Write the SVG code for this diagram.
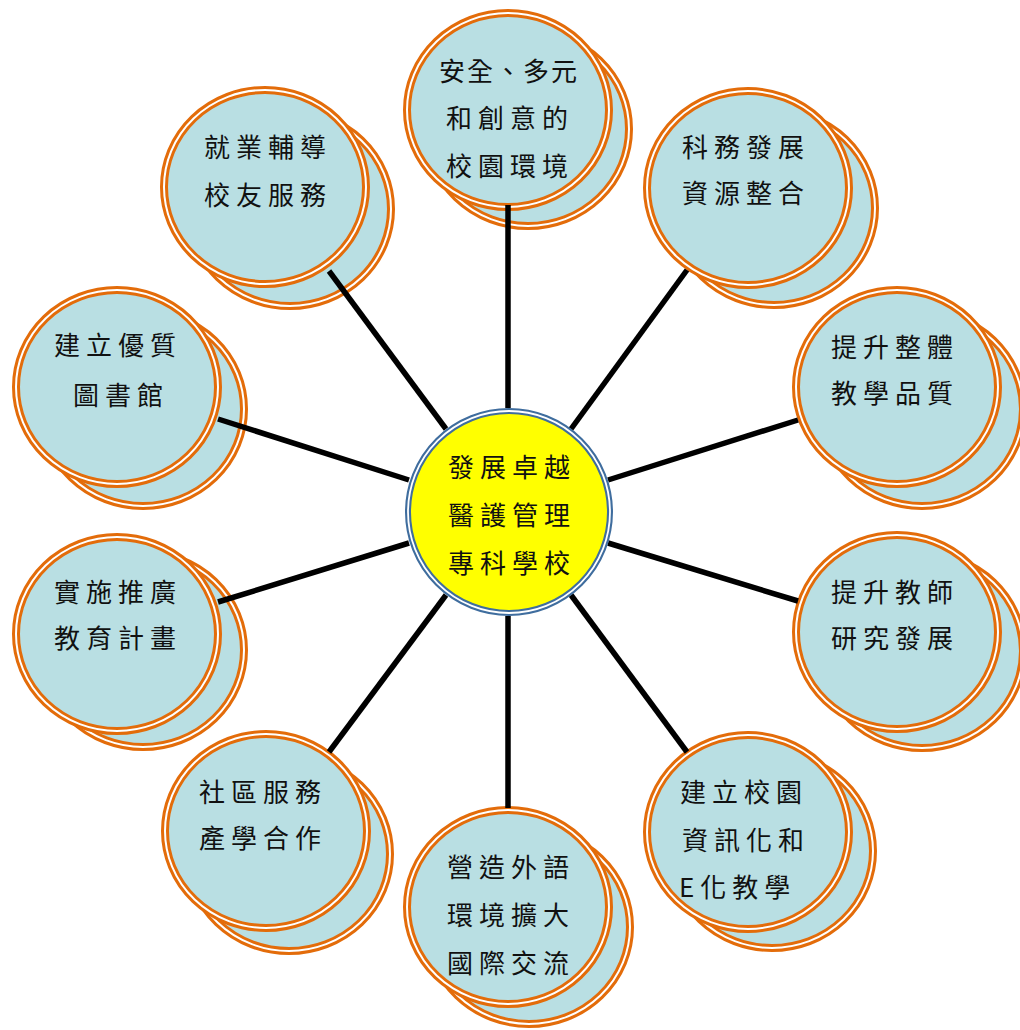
<svg xmlns="http://www.w3.org/2000/svg" xmlns:xlink="http://www.w3.org/1999/xlink" width="1020" height="1030" viewBox="0 0 1020 1030">
<style>
.ring{fill:#B9DFE3;stroke:#E36C0A;stroke-width:8}
.gap{fill:none;stroke:#FFFFFF;stroke-width:2}
.cring{fill:#FFFF00;stroke:#3F6D9E;stroke-width:6}
.cgap{fill:none;stroke:#FFFFFF;stroke-width:1.8}
.t{font-family:"Noto Sans CJK TC","Noto Sans CJK SC",sans-serif;font-size:26px;letter-spacing:6px;fill:#111;text-anchor:middle}
.ts{text-anchor:start}
.con line{stroke:#000;stroke-width:5.5;stroke-linecap:butt}
</style>
<defs>
<g id="bub"><ellipse class="ring" rx="101" ry="97"/><ellipse class="gap" rx="101" ry="97"/></g>
</defs>
<rect width="1020" height="1030" fill="#FFFFFF"/>

<g id="node-top" transform="translate(508,110)">
<use xlink:href="#bub" x="20" y="19"/><use xlink:href="#bub"/>
</g>
<g id="node-topright" transform="translate(748,188)">
<use xlink:href="#bub" x="26" y="20"/><use xlink:href="#bub"/>
</g>
<g id="node-topleft" transform="translate(265,187)">
<use xlink:href="#bub" x="25" y="22"/><use xlink:href="#bub"/>
</g>
<g id="node-rightupper" transform="translate(897,387)">
<use xlink:href="#bub" x="25" y="22"/><use xlink:href="#bub"/>
</g>
<g id="node-leftupper" transform="translate(117,387)">
<use xlink:href="#bub" x="26" y="22"/><use xlink:href="#bub"/>
</g>
<g id="node-rightlower" transform="translate(897,632)">
<use xlink:href="#bub" x="25" y="19"/><use xlink:href="#bub"/>
</g>
<g id="node-leftlower" transform="translate(117,634)">
<use xlink:href="#bub" x="26" y="16"/><use xlink:href="#bub"/>
</g>
<g id="node-bottomright" transform="translate(748,832)">
<use xlink:href="#bub" x="24" y="19"/><use xlink:href="#bub"/>
</g>
<g id="node-bottomleft" transform="translate(266,831)">
<use xlink:href="#bub" x="23" y="23"/><use xlink:href="#bub"/>
</g>
<g id="node-bottom" transform="translate(508,907)">
<use xlink:href="#bub" x="21" y="20"/><use xlink:href="#bub"/>
</g>

<g id="connectors" class="con">
<line x1="508" y1="408" x2="508" y2="205"/>
<line x1="446" y1="429" x2="329" y2="271"/>
<line x1="571" y1="429" x2="687" y2="270"/>
<line x1="409" y1="480" x2="218" y2="419"/>
<line x1="608" y1="480" x2="798" y2="420"/>
<line x1="409" y1="543" x2="218" y2="602"/>
<line x1="608" y1="543" x2="798" y2="601"/>
<line x1="446" y1="595" x2="329" y2="752"/>
<line x1="571" y1="595" x2="687" y2="752"/>
<line x1="508" y1="616" x2="508" y2="808"/>
</g>

<g id="node-center">
<circle class="cring" cx="509" cy="512" r="101"/>
<circle class="cgap" cx="509" cy="512" r="101"/>
<text class="t" x="512" y="477">發展卓越</text>
<text class="t" x="512" y="525">醫護管理</text>
<text class="t" x="512" y="573">專科學校</text>
</g>

<g id="labels">
<text class="t" x="509" y="81" style="letter-spacing:2px">安全、多元</text>
<text class="t" x="510" y="128">和創意的</text>
<text class="t" x="510" y="176">校園環境</text>

<text class="t" x="746" y="157">科務發展</text>
<text class="t" x="746" y="203">資源整合</text>

<text class="t" x="268" y="157">就業輔導</text>
<text class="t" x="268" y="205">校友服務</text>

<text class="t" x="895" y="357">提升整體</text>
<text class="t" x="895" y="403">教學品質</text>

<text class="t" x="118" y="355">建立優質</text>
<text class="t" x="121" y="405">圖書館</text>

<text class="t" x="895" y="602">提升教師</text>
<text class="t" x="895" y="648">研究發展</text>

<text class="t" x="118" y="602">實施推廣</text>
<text class="t" x="118" y="648">教育計畫</text>

<text class="t" x="744" y="802">建立校園</text>
<text class="t" x="746" y="850">資訊化和</text>
<text class="t ts" x="679" y="897">E化教學</text>

<text class="t" x="263" y="802">社區服務</text>
<text class="t" x="263" y="848">產學合作</text>

<text class="t" x="511" y="877">營造外語</text>
<text class="t" x="511" y="925">環境擴大</text>
<text class="t" x="511" y="973">國際交流</text>
</g>
</svg>
